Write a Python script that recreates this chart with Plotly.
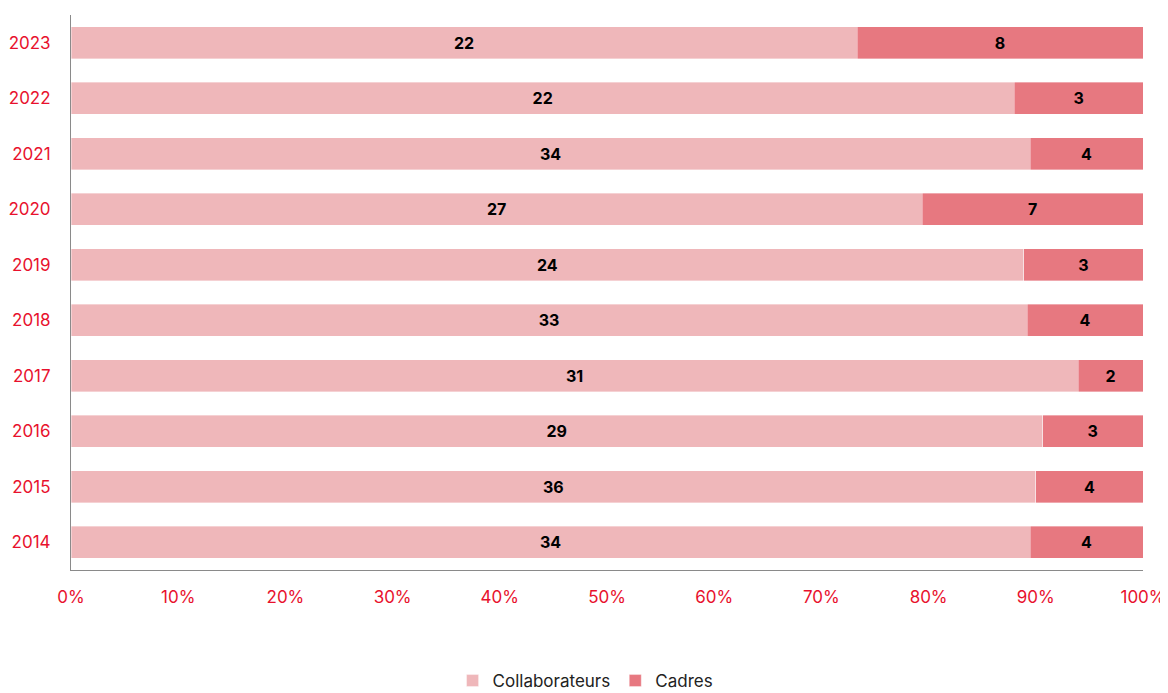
import plotly.graph_objects as go

years = ["2014", "2015", "2016", "2017", "2018", "2019", "2020", "2021", "2022", "2023"]
collaborateurs = [34, 36, 29, 31, 33, 24, 27, 34, 22, 22]
cadres = [4, 4, 3, 2, 4, 3, 7, 4, 3, 8]
x_ticks = [0, 10, 20, 30, 40, 50, 60, 70, 80, 90, 100]

RED = "#E8112D"
FONT = "Inter"

fig = go.Figure()
for name, vals, color in [("Collaborateurs", collaborateurs, "#EFB7BA"),
                          ("Cadres", cadres, "#E77880")]:
    fig.add_trace(go.Bar(
        y=years, x=vals, name=name, orientation="h",
        marker=dict(color=color, line=dict(width=0.6, color="rgba(255,255,255,0.6)")),
        text=[str(v) for v in vals],
        texttemplate="<b>%{text}</b>",
        textposition="inside", insidetextanchor="middle",
        textfont=dict(color="black", size=16, family=FONT),
        hoverinfo="skip",
    ))

fig.update_layout(
    barmode="stack", barnorm="percent", bargap=0.43,
    width=1160, height=685,
    margin=dict(l=63, r=25, t=7, b=123, autoexpand=False),
    plot_bgcolor="white", paper_bgcolor="white",
    font=dict(family=FONT, size=17, color=RED),
    legend=dict(orientation="h", x=0.48, xanchor="center",
                y=-0.2, yanchor="middle", itemwidth=30,
                font=dict(color="#222", size=17, family=FONT), traceorder="normal"),
    uniformtext=dict(mode=False),
)
fig.update_xaxes(range=[0, 100], tickvals=x_ticks, ticktext=[f"{v}%" for v in x_ticks],
                 showgrid=False, zeroline=False, showline=True, linecolor="#8a8a8a", linewidth=1,
                 ticks="", ticklabelstandoff=12, tickfont=dict(color=RED, size=17), automargin=False)
fig.update_yaxes(categoryorder="array", categoryarray=years, showgrid=False, zeroline=False,
                 showline=True, linecolor="#8a8a8a", linewidth=1, ticks="",
                 ticklabelstandoff=16, tickfont=dict(color=RED, size=17), automargin=False)

fig.write_html("out.html")
